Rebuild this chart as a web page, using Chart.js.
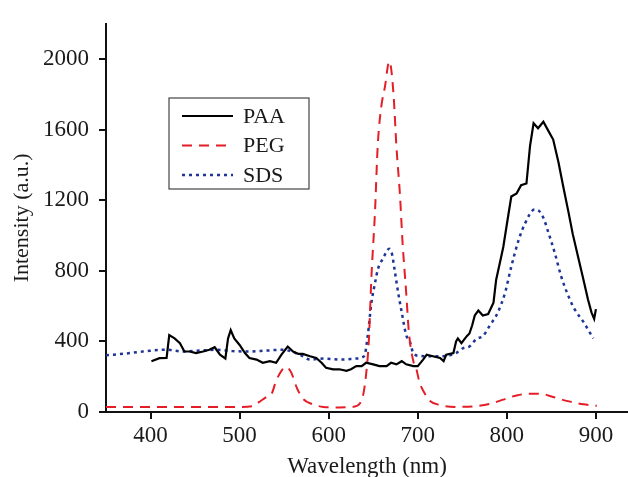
<!DOCTYPE html>
<html>
<head>
<meta charset="utf-8">
<script src="https://cdn.jsdelivr.net/npm/chart.js@4.4.1/dist/chart.umd.min.js"></script>
<style>
  html, body { margin: 0; padding: 0; background: #fff; }
  #wrap { width: 628px; height: 477px; }
</style>
</head>
<body>
<div id="wrap"><canvas id="chart" width="628" height="477"></canvas></div>
<script>
// tick labels
var xTicks = [400, 500, 600, 700, 800, 900];
var yTicks = [0, 400, 800, 1200, 1600, 2000];

// PAA (black solid)
var paaWl = [401, 410, 418, 421, 427, 433, 438, 444, 451, 459, 466, 472, 478, 484, 487, 490, 494, 500, 506, 511,
  519, 526, 534, 541, 547, 554, 560, 566, 571, 579, 586, 592, 597, 605, 612, 620, 625, 631, 637, 642,
  650, 657, 665, 670, 676, 682, 687, 695, 700, 706, 710, 717, 725, 729, 732, 740, 743, 745, 749, 755,
  758, 761, 764, 768, 773, 779, 785, 788, 792, 796, 800, 805, 811, 816, 822, 826, 830, 835, 841, 846,
  852, 858, 863, 869, 874, 880, 886, 891, 895, 898, 900];
var paaI = [288, 305, 306, 436, 417, 390, 343, 343, 334, 343, 353, 367, 325, 303, 417, 464, 417, 380, 334, 306,
  297, 279, 288, 279, 325, 371, 343, 329, 329, 316, 306, 279, 251, 242, 242, 233, 242, 260, 260, 279,
  270, 260, 260, 279, 270, 288, 270, 260, 260, 297, 325, 316, 306, 288, 325, 334, 400, 417, 390, 430,
  445, 490, 547, 575, 547, 555, 620, 750, 842, 935, 1064, 1221, 1239, 1285, 1295, 1507, 1636, 1608, 1645, 1599,
  1544, 1414, 1285, 1137, 1008, 879, 750, 639, 565, 528, 583];

// PEG (red dashed)
var pegWl = [350, 400, 450, 500, 515, 522, 530, 536, 541, 547, 552, 558, 564, 571, 582, 594, 612, 627, 635, 639,
  642, 645, 648, 652, 655, 659, 663, 668, 670, 673, 676, 680, 683, 687, 690, 695, 698, 702, 708, 713,
  725, 743, 766, 781, 796, 811, 826, 837, 852, 867, 886, 901];
var pegI = [29, 29, 29, 29, 33, 57, 85, 104, 177, 233, 255, 223, 140, 76, 44, 29, 26, 29, 48, 104,
  214, 399, 768, 1137, 1507, 1729, 1839, 1987, 1950, 1784, 1507, 1230, 953, 676, 454, 288, 251, 168, 104, 66,
  39, 29, 33, 46, 70, 94, 104, 104, 85, 63, 44, 35];

// SDS (blue dotted)
var sdsWl = [350, 375, 399, 418, 436, 455, 474, 492, 511, 530, 548, 560, 570, 579, 594, 612, 631, 640, 644, 648,
  652, 655, 661, 668, 671, 674, 678, 682, 687, 691, 695, 702, 713, 728, 743, 751, 758, 766, 773, 781,
  790, 798, 805, 813, 820, 831, 836, 841, 846, 854, 861, 869, 876, 886, 897];
var sdsI = [321, 333, 347, 353, 343, 348, 353, 345, 343, 348, 353, 340, 318, 297, 303, 297, 303, 318, 440, 620,
  731, 805, 870, 925, 897, 805, 676, 565, 436, 400, 334, 318, 316, 316, 334, 362, 371, 415, 430, 491,
  565, 676, 824, 971, 1064, 1147, 1140, 1101, 1027, 898, 768, 658, 583, 510, 417];

function pts(xs, ys) {
  return xs.map(function (x, i) { return { x: x, y: ys[i] }; });
}

var serif = '"Liberation Serif", "Times New Roman", serif';
var ink = '#1a1a1a';

// legend box drawn inside the plot, from the dataset styles
var boxLegend = {
  id: 'boxLegend',
  afterDraw: function (chart) {
    var ctx = chart.ctx;
    var left = 169, top = 98, w = 140, h = 91;
    ctx.save();
    ctx.fillStyle = '#fff';
    ctx.fillRect(left, top, w, h);
    ctx.strokeStyle = '#444';
    ctx.lineWidth = 1.2;
    ctx.strokeRect(left, top, w, h);
    ctx.font = '22px ' + serif;
    ctx.textBaseline = 'middle';
    ctx.fillStyle = ink;
    chart.data.datasets.forEach(function (ds, i) {
      var y = 116 + i * 29.5;
      ctx.beginPath();
      ctx.setLineDash(ds.borderDash || []);
      ctx.strokeStyle = ds.borderColor;
      ctx.lineWidth = ds.borderWidth;
      ctx.moveTo(182, y);
      ctx.lineTo(233, y);
      ctx.stroke();
      ctx.setLineDash([]);
      ctx.fillText(ds.label, 243, y + 1);
    });
    ctx.restore();
  }
};

var plain = function (v) { return String(v); };

var ctx = document.getElementById('chart').getContext('2d');
var chart = new Chart(ctx, {
  type: 'line',
  data: {
    datasets: [{
      label: 'PAA',
      data: pts(paaWl, paaI),
      borderColor: '#000',
      borderWidth: 2.2,
      tension: 0
    }, {
      label: 'PEG',
      data: pts(pegWl, pegI),
      borderColor: '#e41e26',
      borderWidth: 2,
      borderDash: [10, 7],
      cubicInterpolationMode: 'monotone'
    }, {
      label: 'SDS',
      data: pts(sdsWl, sdsI),
      borderColor: '#1d3596',
      borderWidth: 2.5,
      borderDash: [3, 4],
      cubicInterpolationMode: 'monotone'
    }]
  },
  options: {
    responsive: false,
    animation: false,
    layout: { padding: { top: 15, right: 0, left: 0, bottom: 0 } },
    elements: { point: { radius: 0 } },
    plugins: {
      legend: { display: false },
      tooltip: { enabled: false }
    },
    scales: {
      x: {
        type: 'linear',
        min: 350,
        max: 936,
        afterBuildTicks: function (s) { s.ticks = xTicks.map(function (v) { return { value: v }; }); },
        afterFit: function (s) { s.height = 65; },
        grid: { drawOnChartArea: false, drawTicks: true, tickLength: 7, color: '#111', lineWidth: 2 },
        border: { display: true, color: '#111', width: 2 },
        ticks: { color: ink, font: { family: serif, size: 23 }, padding: 3, maxRotation: 0, callback: plain },
        title: {
          display: true,
          text: 'Wavelength (nm)',
          color: ink,
          font: { family: serif, size: 23, lineHeight: 1 },
          padding: { top: 0, bottom: -1 }
        }
      },
      y: {
        min: 0,
        max: 2200,
        afterBuildTicks: function (s) { s.ticks = yTicks.map(function (v) { return { value: v }; }); },
        afterFit: function (s) { s.width = 106; },
        grid: { drawOnChartArea: false, drawTicks: true, tickLength: 7, color: '#111', lineWidth: 2 },
        border: { display: true, color: '#111', width: 2 },
        ticks: { color: ink, font: { family: serif, size: 23 }, padding: 10, callback: plain },
        title: {
          display: true,
          text: 'Intensity (a.u.)',
          color: ink,
          font: { family: serif, size: 22 },
          padding: { top: 9, bottom: 0 }
        }
      }
    }
  },
  plugins: [boxLegend]
});
</script>
</body>
</html>
